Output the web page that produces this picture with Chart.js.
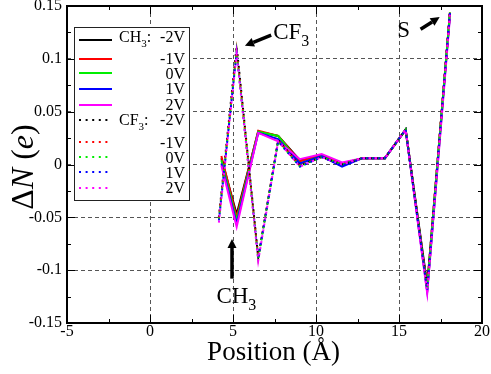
<!DOCTYPE html>
<html>
<head>
<meta charset="utf-8">
<script src="https://cdn.jsdelivr.net/npm/chart.js@4/dist/chart.umd.min.js"></script>
<style>
  html, body { margin: 0; padding: 0; background: #fff; }
</style>
</head>
<body>
<canvas id="c" width="491" height="374"></canvas>
<script>
// atom positions (Å) along the molecule
const ch3Pos = [4.3, 5.22, 6.52, 7.72, 9.03, 10.34, 11.57, 12.8, 14.15, 15.4, 16.7, 18.07];
const cf3Pos = [4.15, 5.22, 6.52, 7.72, 9.03, 10.34, 11.57, 12.8, 14.15, 15.4, 16.7, 18.07];

// ΔN (e) for CH3, one array per bias
const ch3M2 = [0.006, -0.047, 0.031, 0.027, 0.004, 0.009, 0.001, 0.006, 0.006, 0.033, -0.114, 0.143];
const ch3M1 = [0.008, -0.050, 0.032, 0.027, 0.003, 0.009, 0.000, 0.006, 0.006, 0.033, -0.116, 0.144];
const ch3Z  = [0.004, -0.053, 0.031, 0.027, 0.001, 0.008, -0.001, 0.006, 0.006, 0.033, -0.118, 0.143];
const ch3P1 = [0.001, -0.056, 0.030, 0.024, 0.001, 0.008, -0.002, 0.006, 0.006, 0.033, -0.120, 0.142];
const ch3P2 = [-0.001, -0.059, 0.030, 0.022, 0.005, 0.010, 0.002, 0.006, 0.006, 0.033, -0.122, 0.140];

// ΔN (e) for CF3
const cf3M2 = [-0.050, 0.112, -0.088, 0.023, -0.001, 0.007, 0.000, 0.006, 0.006, 0.033, -0.116, 0.146];
const cf3M1 = [-0.051, 0.108, -0.088, 0.023, -0.001, 0.007, 0.000, 0.006, 0.006, 0.033, -0.117, 0.145];
const cf3Z  = [-0.052, 0.107, -0.089, 0.022, -0.002, 0.007, 0.000, 0.006, 0.006, 0.033, -0.118, 0.144];
const cf3P1 = [-0.053, 0.106, -0.089, 0.022, -0.002, 0.007, -0.001, 0.006, 0.006, 0.033, -0.119, 0.144];
const cf3P2 = [-0.055, 0.105, -0.091, 0.022, -0.002, 0.007, 0.000, 0.006, 0.006, 0.033, -0.121, 0.143];

const biasLabels = ['-2V', '-1V', '0V', '1V', '2V'];
const colors = ['#000000', '#ff0000', '#00ee00', '#0000ff', '#ff00ff'];
const xTicks = [-5, 0, 5, 10, 15, 20];
const yTicks = [-0.15, -0.1, -0.05, 0, 0.05, 0.1, 0.15];

const SERIF = '"Liberation Serif", serif';

function pairs(xs, ys) {
  return ys.map((y, i) => ({ x: xs[i], y: y }));
}

const ch3Sets = [ch3M2, ch3M1, ch3Z, ch3P1, ch3P2];
const cf3Sets = [cf3M2, cf3M1, cf3Z, cf3P1, cf3P2];

const datasets = [];
ch3Sets.forEach((ys, i) => {
  datasets.push({
    label: 'CH3 ' + biasLabels[i],
    data: pairs(ch3Pos, ys),
    borderColor: colors[i],
    borderWidth: 2,
    order: 20 - i // magenta on top
  });
});
cf3Sets.forEach((ys, i) => {
  datasets.push({
    label: 'CF3 ' + biasLabels[i],
    data: pairs(cf3Pos, ys),
    borderColor: colors[i],
    borderWidth: 2,
    borderDash: [2, 4],
    order: 10 - i
  });
});

// draws text with a subscript part, returns end x
function subText(ctx, x, y, main, sub, size) {
  ctx.font = size + 'px ' + SERIF;
  ctx.fillText(main, x, y);
  let w = ctx.measureText(main).width;
  ctx.font = Math.round(size * 0.7) + 'px ' + SERIF;
  ctx.fillText(sub, x + w, y + size * 0.3);
  return x + w + ctx.measureText(sub).width;
}

function arrow(ctx, x1, y1, x2, y2) {
  const ang = Math.atan2(y2 - y1, x2 - x1);
  const head = 9, hw = 4.5;
  const bx = x2 - head * Math.cos(ang), by = y2 - head * Math.sin(ang);
  ctx.strokeStyle = '#000';
  ctx.lineWidth = 3.5;
  ctx.beginPath();
  ctx.moveTo(x1, y1);
  ctx.lineTo(bx, by);
  ctx.stroke();
  ctx.fillStyle = '#000';
  ctx.beginPath();
  ctx.moveTo(x2, y2);
  ctx.lineTo(bx + hw * Math.sin(ang), by - hw * Math.cos(ang));
  ctx.lineTo(bx - hw * Math.sin(ang), by + hw * Math.cos(ang));
  ctx.closePath();
  ctx.fill();
}

const decor = {
  id: 'decor',
  afterDraw(chart) {
    const ctx = chart.ctx;
    const a = chart.chartArea;
    const xs = chart.scales.x, ys = chart.scales.y;
    const px = v => xs.getPixelForValue(v);
    const py = v => ys.getPixelForValue(v);
    ctx.save();

    // inward ticks on all four sides
    ctx.strokeStyle = '#000';
    ctx.lineWidth = 1;
    ctx.setLineDash([]);
    ctx.beginPath();
    for (let v = -5; v <= 20; v += 2.5) {
      const len = (v % 5 === 0) ? 8 : 4;
      const x = Math.round(px(v)) + 0.5;
      ctx.moveTo(x, a.bottom); ctx.lineTo(x, a.bottom - len);
      ctx.moveTo(x, a.top); ctx.lineTo(x, a.top + len);
    }
    for (let k = -6; k <= 6; k++) {
      const v = k * 0.025;
      const len = (k % 2 === 0) ? 8 : 4;
      const y = Math.round(py(v)) + 0.5;
      ctx.moveTo(a.left, y); ctx.lineTo(a.left + len, y);
      ctx.moveTo(a.right, y); ctx.lineTo(a.right - len, y);
    }
    ctx.stroke();

    // frame
    ctx.lineWidth = 2;
    ctx.strokeRect(a.left, a.top, a.right - a.left, a.bottom - a.top);

    // tick labels from the scale ticks
    ctx.fillStyle = '#000';
    ctx.font = '16px ' + SERIF;
    ctx.textAlign = 'center';
    ctx.textBaseline = 'top';
    xs.ticks.forEach(t => ctx.fillText(String(t.value), px(t.value), a.bottom + 1));
    ctx.textAlign = 'right';
    ctx.textBaseline = 'middle';
    ys.ticks.forEach(t => ctx.fillText(String(parseFloat(t.value.toFixed(2))), a.left - 5, py(t.value)));

    // legend box
    const lx = 74, ly = 27, lw = 115, lh = 173;
    ctx.lineWidth = 1;
    ctx.fillStyle = '#fff';
    ctx.fillRect(lx, ly, lw, lh);
    ctx.strokeStyle = '#222';
    ctx.strokeRect(lx + 0.5, ly + 0.5, lw, lh);

    const lineY = [40, 59, 73, 89, 105, 120, 142, 157, 172, 188];
    const textY = [42, 64, 79, 94, 110, 125, 148, 163, 178, 193];
    ctx.textBaseline = 'alphabetic';
    chart.data.datasets.forEach((ds, i) => {
      ctx.strokeStyle = ds.borderColor;
      ctx.lineWidth = 2;
      ctx.setLineDash(ds.borderDash ? [2, 4.6] : []);
      ctx.beginPath();
      ctx.moveTo(79, lineY[i]);
      ctx.lineTo(112, lineY[i]);
      ctx.stroke();
      ctx.setLineDash([]);
      ctx.fillStyle = '#000';
      ctx.font = '16px ' + SERIF;
      ctx.textAlign = 'right';
      ctx.fillText(biasLabels[i % 5], 185, textY[i]);
    });
    ctx.textAlign = 'left';
    ctx.fillStyle = '#000';
    let e = subText(ctx, 119, textY[0], 'CH', '3', 16);
    ctx.font = '16px ' + SERIF;
    ctx.fillText(':', e, textY[0]);
    e = subText(ctx, 119, textY[5], 'CF', '3', 16);
    ctx.font = '16px ' + SERIF;
    ctx.fillText(':', e, textY[5]);

    // annotations
    ctx.fillStyle = '#000';
    subText(ctx, px(7.42), py(0.119), 'CF', '3', 23);
    arrow(ctx, px(7.3), py(0.1225), px(5.72), py(0.1125));
    ctx.font = '23px ' + SERIF;
    ctx.fillText('S', px(14.9), py(0.1205));
    arrow(ctx, px(16.3), py(0.128), px(17.45), py(0.1395));
    subText(ctx, px(4.0), py(-0.131), 'CH', '3', 23);
    arrow(ctx, px(4.94), py(-0.108), px(4.94), py(-0.0705));

    // axis titles
    ctx.textAlign = 'center';
    ctx.font = '27px ' + SERIF;
    ctx.fillText('Position (Å)', (a.left + a.right) / 2 - 1, 360);

    ctx.translate(33, 167);
    ctx.rotate(-Math.PI / 2);
    const parts = [['Δ', ''], ['N', 'italic '], [' (', ''], ['e', 'italic '], [')', '']];
    let total = 0;
    parts.forEach(p => { ctx.font = p[1] + '32px ' + SERIF; total += ctx.measureText(p[0]).width; });
    let cx = -total / 2;
    ctx.textAlign = 'left';
    parts.forEach(p => {
      ctx.font = p[1] + '32px ' + SERIF;
      ctx.fillText(p[0], cx, 0);
      cx += ctx.measureText(p[0]).width;
    });

    ctx.restore();
  }
};

const edgeColor = (ctx, lo, hi) => {
  const v = ctx.tick ? ctx.tick.value : null;
  if (v === null || Math.abs(v - lo) < 1e-9 || Math.abs(v - hi) < 1e-9) return 'rgba(0,0,0,0)';
  return '#555';
};

new Chart(document.getElementById('c'), {
  type: 'line',
  data: { datasets: datasets },
  options: {
    responsive: false,
    animation: false,
    devicePixelRatio: 1,
    layout: { padding: { top: 6, right: 9, left: 0, bottom: 0 } },
    elements: {
      line: { tension: 0, fill: false },
      point: { radius: 0 }
    },
    plugins: {
      legend: { display: false },
      tooltip: { enabled: false }
    },
    scales: {
      x: {
        type: 'linear',
        min: -5,
        max: 20,
        afterBuildTicks: s => { s.ticks = xTicks.map(v => ({ value: v })); },
        afterFit: s => { s.height = 51; },
        ticks: { display: false },
        grid: { color: c => edgeColor(c, -5, 20), lineWidth: 1, drawTicks: false },
        border: { display: false, dash: [4, 3] }
      },
      y: {
        type: 'linear',
        min: -0.15,
        max: 0.15,
        afterBuildTicks: s => { s.ticks = yTicks.map(v => ({ value: v })); },
        afterFit: s => { s.width = 67; },
        ticks: { display: false },
        grid: { color: c => edgeColor(c, -0.15, 0.15), lineWidth: 1, drawTicks: false },
        border: { display: false, dash: [4, 3] }
      }
    }
  },
  plugins: [decor]
});
</script>
</body>
</html>
